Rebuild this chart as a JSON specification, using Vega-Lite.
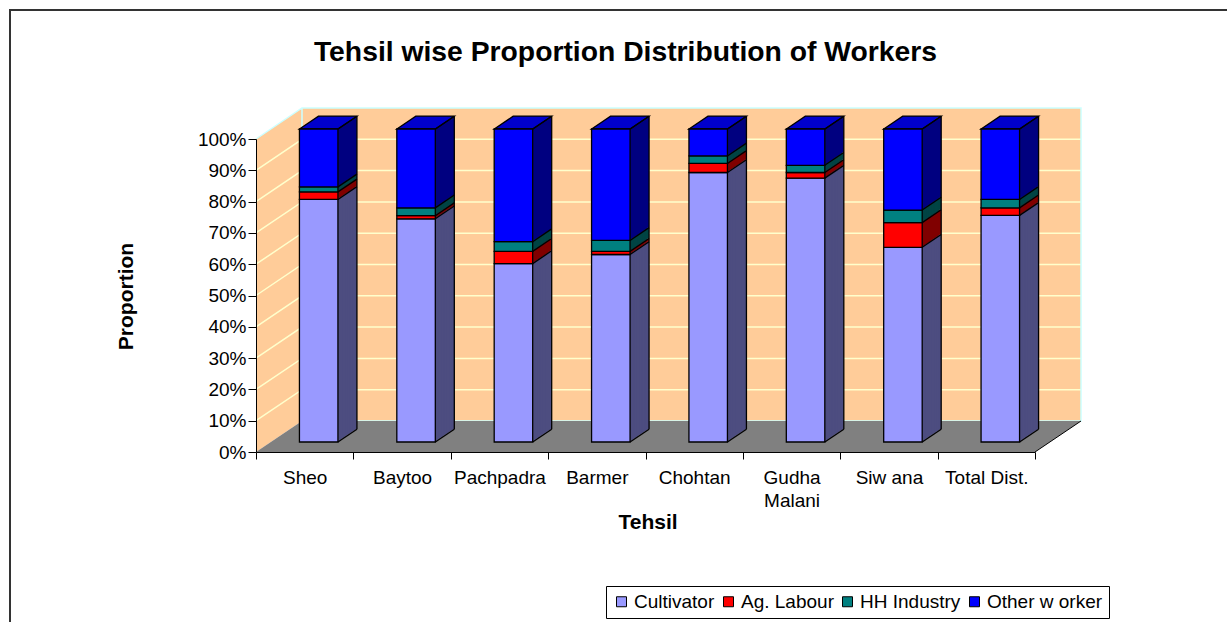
{
"$schema": "https://vega.github.io/schema/vega-lite/v6.json",
"width": 1219, "height": 614,
"autosize": "none",
"padding": {"left": 10, "top": 10, "right": 0, "bottom": 0},
"background": "white",
"title": {"text": "Tehsil wise Proportion Distribution of Workers", "font": "Liberation Sans", "fontSize": 28.3, "fontWeight": "bold", "color": "#000", "anchor": "middle", "frame": "group", "offset": -57, "dx": 6},
"datasets": {
 "workers": [
  {"tehsil": "Sheo", "type": "Cultivator", "value": 77.5},
  {"tehsil": "Sheo", "type": "Ag. Labour", "value": 2.4},
  {"tehsil": "Sheo", "type": "HH Industry", "value": 1.6},
  {"tehsil": "Sheo", "type": "Other w orker", "value": 18.5},
  {"tehsil": "Baytoo", "type": "Cultivator", "value": 71.3},
  {"tehsil": "Baytoo", "type": "Ag. Labour", "value": 1.0},
  {"tehsil": "Baytoo", "type": "HH Industry", "value": 2.5},
  {"tehsil": "Baytoo", "type": "Other w orker", "value": 25.2},
  {"tehsil": "Pachpadra", "type": "Cultivator", "value": 57.0},
  {"tehsil": "Pachpadra", "type": "Ag. Labour", "value": 3.9},
  {"tehsil": "Pachpadra", "type": "HH Industry", "value": 3.1},
  {"tehsil": "Pachpadra", "type": "Other w orker", "value": 36.0},
  {"tehsil": "Barmer", "type": "Cultivator", "value": 59.9},
  {"tehsil": "Barmer", "type": "Ag. Labour", "value": 1.0},
  {"tehsil": "Barmer", "type": "HH Industry", "value": 3.5},
  {"tehsil": "Barmer", "type": "Other w orker", "value": 35.6},
  {"tehsil": "Chohtan", "type": "Cultivator", "value": 86.1},
  {"tehsil": "Chohtan", "type": "Ag. Labour", "value": 2.9},
  {"tehsil": "Chohtan", "type": "HH Industry", "value": 2.4},
  {"tehsil": "Chohtan", "type": "Other w orker", "value": 8.6},
  {"tehsil": "Gudha Malani", "type": "Cultivator", "value": 84.3},
  {"tehsil": "Gudha Malani", "type": "Ag. Labour", "value": 1.8},
  {"tehsil": "Gudha Malani", "type": "HH Industry", "value": 2.3},
  {"tehsil": "Gudha Malani", "type": "Other w orker", "value": 11.6},
  {"tehsil": "Siw ana", "type": "Cultivator", "value": 62.2},
  {"tehsil": "Siw ana", "type": "Ag. Labour", "value": 7.9},
  {"tehsil": "Siw ana", "type": "HH Industry", "value": 4.0},
  {"tehsil": "Siw ana", "type": "Other w orker", "value": 25.9},
  {"tehsil": "Total Dist.", "type": "Cultivator", "value": 72.4},
  {"tehsil": "Total Dist.", "type": "Ag. Labour", "value": 2.4},
  {"tehsil": "Total Dist.", "type": "HH Industry", "value": 2.7},
  {"tehsil": "Total Dist.", "type": "Other w orker", "value": 22.5}
 ],
 "grid": [{"g": 0.1}, {"g": 0.2}, {"g": 0.3}, {"g": 0.4}, {"g": 0.5}, {"g": 0.6}, {"g": 0.7}, {"g": 0.8}, {"g": 0.9}]
},
"layer": [
 {
  "data": {"values": [{}]},
  "mark": {"type": "point", "shape": "M0,0L0,-313L46,-344L825,-344L825,-31L46,-31Z", "size": 4, "filled": true, "fill": "#FFCC99", "strokeWidth": 0, "opacity": 1},
  "encoding": {
   "x": {"datum": "Sheo", "type": "nominal", "bandPosition": 0,
     "scale": {"type": "band", "domain": ["Sheo", "Baytoo", "Pachpadra", "Barmer", "Chohtan", "Gudha Malani", "Siw ana", "Total Dist."], "range": [246, 1025], "paddingInner": 0, "paddingOuter": 0},
     "axis": {"orient": "bottom", "offset": -172, "title": "Tehsil", "tickBand": "extent", "tickSize": 7, "tickColor": "#000", "domainColor": "#000", "labelColor": "#000", "labelFont": "Liberation Sans", "labelFontSize": 19, "labelAngle": 0, "labelPadding": 9, "labelLineHeight": 23, "labelOverlap": false, "labelExpr": "datum.label == 'Gudha Malani' ? ['Gudha', 'Malani'] : datum.label", "titleFont": "Liberation Sans", "titleFontSize": 21, "titleFontWeight": "bold", "titleColor": "#000", "titleX": 637.5, "titleY": 70, "titleBaseline": "middle", "titleAlign": "center", "grid": false, "zindex": 1}},
   "y": {"datum": 0, "type": "quantitative",
     "scale": {"domain": [0, 1], "range": [442, 129], "nice": false, "zero": false},
     "axis": {"orient": "left", "offset": -246, "title": "Proportion", "format": ".0%", "values": [0, 0.1, 0.2, 0.3, 0.4, 0.5, 0.6, 0.7, 0.8, 0.9, 1], "tickSize": 8, "tickColor": "#000", "domainColor": "#000", "labelColor": "#000", "labelFont": "Liberation Sans", "labelFontSize": 19, "labelPadding": 2, "titleFont": "Liberation Sans", "titleFontSize": 21, "titleFontWeight": "bold", "titleColor": "#000", "titleAngle": -90, "titleX": -130, "titleY": 286, "titleAlign": "center", "titleBaseline": "middle", "grid": false, "zindex": 1}}
  }
 },
 {
  "data": {"name": "grid"},
  "mark": {"type": "point", "shape": "M0,0L46,-31L825,-31", "size": 4, "filled": false, "color": "#FFFFCC", "strokeWidth": 1.5, "opacity": 1},
  "encoding": {
   "x": {"datum": "Sheo", "type": "nominal", "bandPosition": 0},
   "y": {"field": "g", "type": "quantitative", "title": "Proportion"}
  }
 },
 {
  "data": {"values": [{}]},
  "layer": [
   {"mark": {"type": "point", "shape": "M0,-313L46,-344L825,-344L825,-31L46,-31M46,-31L46,-344", "size": 4, "filled": false, "color": "#CCFFFF", "strokeWidth": 1.5, "opacity": 1},
    "encoding": {"x": {"datum": "Sheo", "type": "nominal", "bandPosition": 0}, "y": {"datum": 0, "type": "quantitative"}}},
   {"mark": {"type": "point", "shape": "M0,0L779,0L825,-31L46,-31Z", "size": 4, "filled": true, "fill": "#808080", "strokeWidth": 0, "opacity": 1},
    "encoding": {"x": {"datum": "Sheo", "type": "nominal", "bandPosition": 0}, "y": {"datum": 0, "type": "quantitative"}}},
   {"mark": {"type": "point", "shape": "M779,0L825,-31", "size": 4, "filled": false, "color": "#000", "strokeWidth": 1, "opacity": 1},
    "encoding": {"x": {"datum": "Sheo", "type": "nominal", "bandPosition": 0}, "y": {"datum": 0, "type": "quantitative"}}}
  ]
 },
 {
  "data": {"name": "workers"},
  "transform": [
   {"calculate": "indexof(['Cultivator','Ag. Labour','HH Industry','Other w orker'], datum.type)", "as": "ord"},
   {"stack": "value", "groupby": ["tehsil"], "sort": [{"field": "ord", "order": "ascending"}], "offset": "normalize", "as": ["v0", "v1"]}
  ],
  "encoding": {
   "x": {"field": "tehsil", "type": "nominal", "title": "Tehsil"},
   "y": {"field": "v0", "type": "quantitative", "title": "Proportion"},
   "y2": {"field": "v1"}
  },
  "layer": [
   {"mark": {"type": "bar", "width": 38.5, "xOffset": 33, "yOffset": -22.8, "y2Offset": -22.8},
    "encoding": {"fill": {"condition": [{"test": "datum.type == 'Cultivator'", "value": "#4D4D80"}, {"test": "datum.type == 'Ag. Labour'", "value": "#800000"}, {"test": "datum.type == 'HH Industry'", "value": "#004444"}], "value": "#000080"}}},
   {"mark": {"type": "bar", "width": 38.5, "xOffset": 31.417, "yOffset": -21.733, "y2Offset": -21.733},
    "encoding": {"fill": {"condition": [{"test": "datum.type == 'Cultivator'", "value": "#4D4D80"}, {"test": "datum.type == 'Ag. Labour'", "value": "#800000"}, {"test": "datum.type == 'HH Industry'", "value": "#004444"}], "value": "#000080"}}},
   {"mark": {"type": "bar", "width": 38.5, "xOffset": 29.833, "yOffset": -20.667, "y2Offset": -20.667},
    "encoding": {"fill": {"condition": [{"test": "datum.type == 'Cultivator'", "value": "#4D4D80"}, {"test": "datum.type == 'Ag. Labour'", "value": "#800000"}, {"test": "datum.type == 'HH Industry'", "value": "#004444"}], "value": "#000080"}}},
   {"mark": {"type": "bar", "width": 38.5, "xOffset": 28.25, "yOffset": -19.6, "y2Offset": -19.6},
    "encoding": {"fill": {"condition": [{"test": "datum.type == 'Cultivator'", "value": "#4D4D80"}, {"test": "datum.type == 'Ag. Labour'", "value": "#800000"}, {"test": "datum.type == 'HH Industry'", "value": "#004444"}], "value": "#000080"}}},
   {"mark": {"type": "bar", "width": 38.5, "xOffset": 26.667, "yOffset": -18.533, "y2Offset": -18.533},
    "encoding": {"fill": {"condition": [{"test": "datum.type == 'Cultivator'", "value": "#4D4D80"}, {"test": "datum.type == 'Ag. Labour'", "value": "#800000"}, {"test": "datum.type == 'HH Industry'", "value": "#004444"}], "value": "#000080"}}},
   {"mark": {"type": "bar", "width": 38.5, "xOffset": 25.083, "yOffset": -17.467, "y2Offset": -17.467},
    "encoding": {"fill": {"condition": [{"test": "datum.type == 'Cultivator'", "value": "#4D4D80"}, {"test": "datum.type == 'Ag. Labour'", "value": "#800000"}, {"test": "datum.type == 'HH Industry'", "value": "#004444"}], "value": "#000080"}}},
   {"mark": {"type": "bar", "width": 38.5, "xOffset": 23.5, "yOffset": -16.4, "y2Offset": -16.4},
    "encoding": {"fill": {"condition": [{"test": "datum.type == 'Cultivator'", "value": "#4D4D80"}, {"test": "datum.type == 'Ag. Labour'", "value": "#800000"}, {"test": "datum.type == 'HH Industry'", "value": "#004444"}], "value": "#000080"}}},
   {"mark": {"type": "bar", "width": 38.5, "xOffset": 21.917, "yOffset": -15.333, "y2Offset": -15.333},
    "encoding": {"fill": {"condition": [{"test": "datum.type == 'Cultivator'", "value": "#4D4D80"}, {"test": "datum.type == 'Ag. Labour'", "value": "#800000"}, {"test": "datum.type == 'HH Industry'", "value": "#004444"}], "value": "#000080"}}},
   {"mark": {"type": "bar", "width": 38.5, "xOffset": 20.333, "yOffset": -14.267, "y2Offset": -14.267},
    "encoding": {"fill": {"condition": [{"test": "datum.type == 'Cultivator'", "value": "#4D4D80"}, {"test": "datum.type == 'Ag. Labour'", "value": "#800000"}, {"test": "datum.type == 'HH Industry'", "value": "#004444"}], "value": "#000080"}}},
   {"mark": {"type": "bar", "width": 38.5, "xOffset": 18.75, "yOffset": -13.2, "y2Offset": -13.2},
    "encoding": {"fill": {"condition": [{"test": "datum.type == 'Cultivator'", "value": "#4D4D80"}, {"test": "datum.type == 'Ag. Labour'", "value": "#800000"}, {"test": "datum.type == 'HH Industry'", "value": "#004444"}], "value": "#000080"}}},
   {"mark": {"type": "bar", "width": 38.5, "xOffset": 17.167, "yOffset": -12.133, "y2Offset": -12.133},
    "encoding": {"fill": {"condition": [{"test": "datum.type == 'Cultivator'", "value": "#4D4D80"}, {"test": "datum.type == 'Ag. Labour'", "value": "#800000"}, {"test": "datum.type == 'HH Industry'", "value": "#004444"}], "value": "#000080"}}},
   {"mark": {"type": "bar", "width": 38.5, "xOffset": 15.583, "yOffset": -11.067, "y2Offset": -11.067},
    "encoding": {"fill": {"condition": [{"test": "datum.type == 'Cultivator'", "value": "#4D4D80"}, {"test": "datum.type == 'Ag. Labour'", "value": "#800000"}, {"test": "datum.type == 'HH Industry'", "value": "#004444"}], "value": "#000080"}}},
   {"transform": [{"filter": "datum.type == 'Other w orker'"}],
    "mark": {"type": "point", "shape": "M-5.25,-10L33.25,-10L52.25,-22.8L13.75,-22.8Z", "size": 4, "filled": true, "fill": "#0000CC", "stroke": "#000", "strokeWidth": 1.3, "opacity": 1},
    "encoding": {"y": {"field": "v1", "type": "quantitative", "title": "Proportion"}, "y2": null}},
   {"mark": {"type": "bar", "width": 38.5, "xOffset": 14, "yOffset": -10, "y2Offset": -10, "stroke": "#000", "strokeWidth": 1.3},
    "encoding": {
     "color": {"field": "type", "type": "nominal", "title": null, "sort": ["Cultivator", "Ag. Labour", "HH Industry", "Other w orker"],
       "scale": {"domain": ["Cultivator", "Ag. Labour", "HH Industry", "Other w orker"], "range": ["#9999FF", "#FF0000", "#008080", "#0000FF"]},
       "legend": {"orient": "none", "legendX": 596, "legendY": 576, "direction": "horizontal", "title": null, "symbolType": "square", "symbolSize": 100, "symbolStrokeColor": "#000", "symbolStrokeWidth": 1, "symbolOpacity": 1, "labelFont": "Liberation Sans", "labelFontSize": 19, "labelColor": "#000", "labelOffset": 3, "columnPadding": 4, "strokeColor": "#000", "fillColor": "#FFFFFF", "padding": 6}}}},
   {"mark": {"type": "point", "shape": "M33.25,-10L52.25,-22.8", "size": 4, "filled": false, "color": "#000", "strokeWidth": 1.3, "opacity": 1},
    "encoding": {"y": {"field": "v1", "type": "quantitative", "title": "Proportion"}, "y2": null}},
   {"transform": [{"filter": "datum.type == 'Cultivator'"}],
    "mark": {"type": "point", "shape": "M33.25,-10L52.25,-22.8", "size": 4, "filled": false, "color": "#000", "strokeWidth": 1.3, "opacity": 1},
    "encoding": {"y": {"field": "v0", "type": "quantitative", "title": "Proportion"}, "y2": null}},
   {"transform": [{"filter": "datum.type == 'Other w orker'"}],
    "mark": {"type": "rule", "xOffset": 52.25, "yOffset": -22.8, "y2Offset": -22.8, "color": "#000", "strokeWidth": 1.3},
    "encoding": {"y": {"field": "v1", "type": "quantitative", "title": "Proportion"}, "y2": {"datum": 0}}}
  ]
 }
],
"config": {
 "font": "Liberation Sans",
 "view": {"stroke": "#333333", "strokeWidth": 2, "fill": null}
}
}
